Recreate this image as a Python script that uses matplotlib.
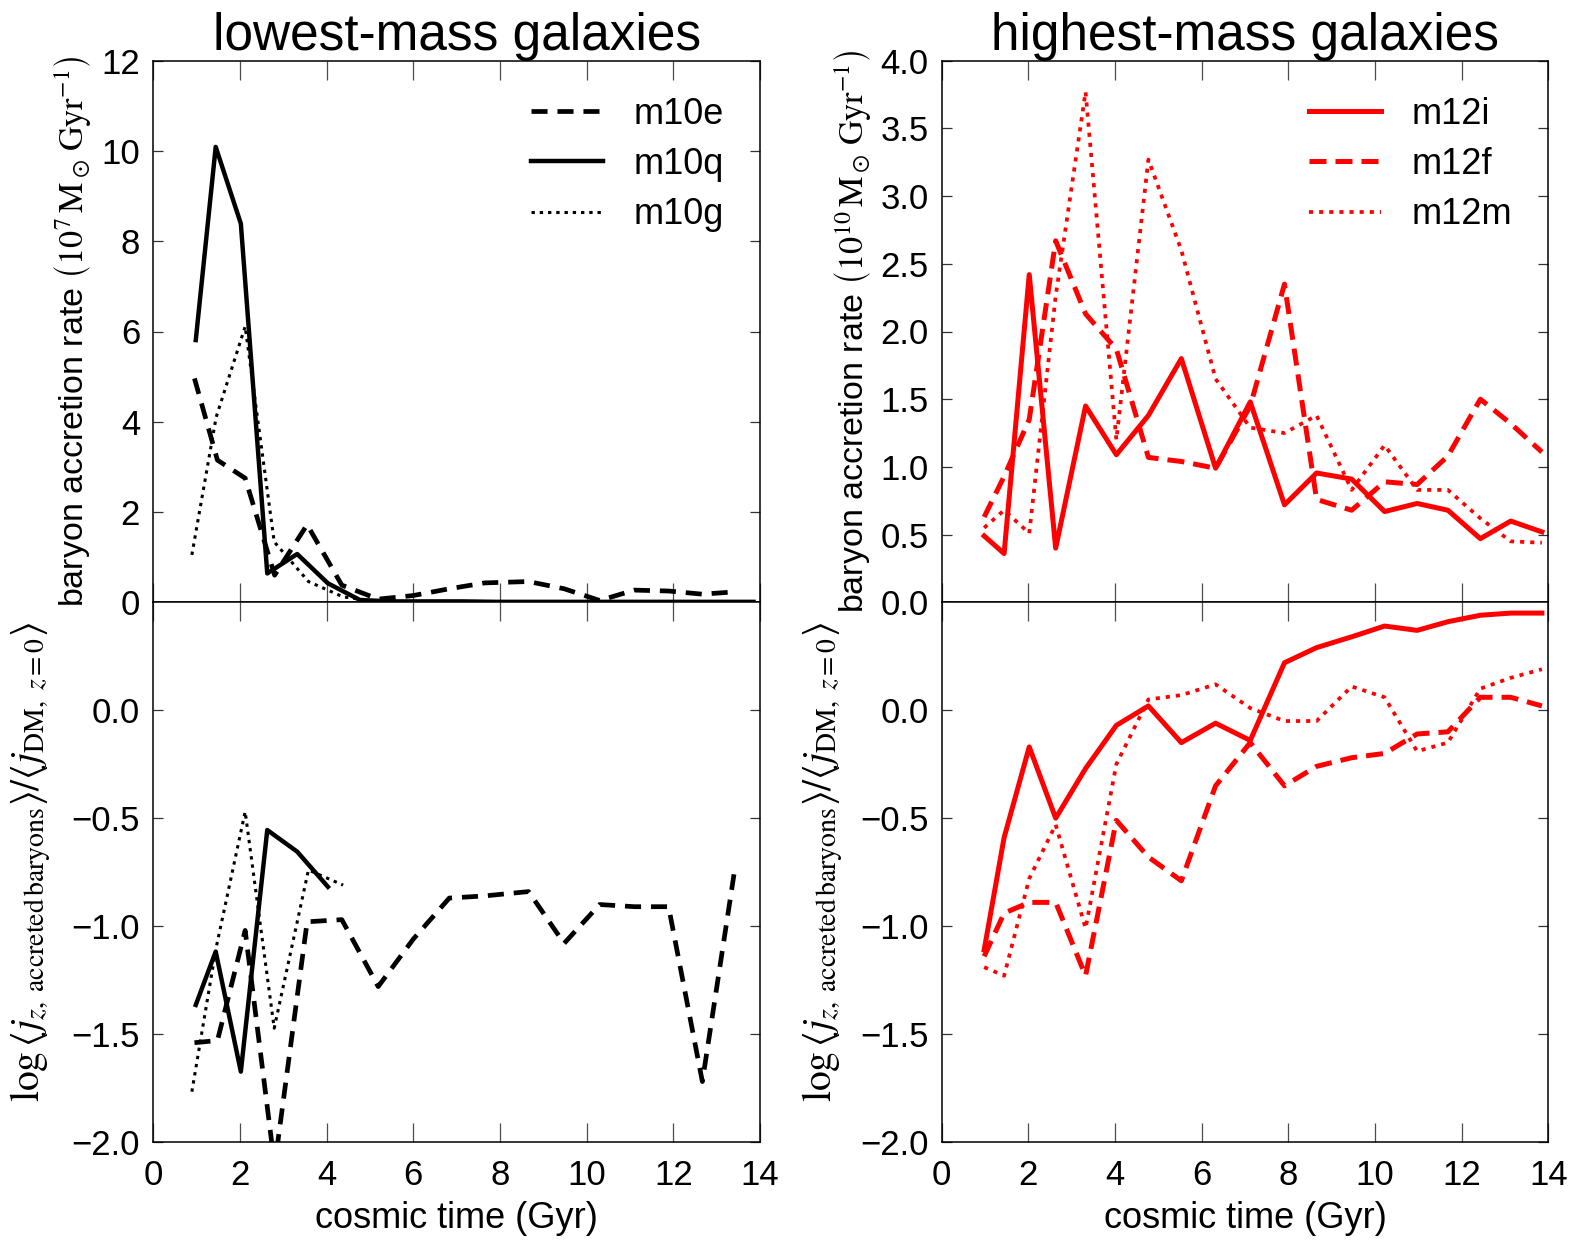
import numpy as np
import matplotlib
matplotlib.use("Agg")
import matplotlib.pyplot as plt

plt.rcParams['font.family'] = ['Liberation Sans', 'DejaVu Sans']
plt.rcParams['mathtext.fontset'] = 'stix'

# ---------------- data ----------------
t_m12 = [0.98, 1.44, 2.02, 2.63, 3.32, 4.03, 4.77, 5.53, 6.32, 7.12, 7.91,
         8.65, 9.46, 10.22, 10.97, 11.68, 12.43, 13.13, 13.85]
t_m10e = [0.95, 1.48, 2.12, 2.80, 3.55, 4.35, 5.19, 6.00, 6.83, 7.65, 8.66,
          9.48, 10.30, 11.10, 11.89, 12.67, 13.40]
t_m10g = [0.89, 1.45, 2.12, 2.79, 3.58, 4.38, 5.19, 6.00, 6.83, 7.65, 8.66,
          9.48, 10.30, 11.10, 11.89, 12.67, 13.40]
t_m10q = t_m12

acc_m10e = [4.96, 3.15, 2.75, 0.60, 1.72, 0.38, 0.07, 0.15, 0.30, 0.43, 0.46,
            0.30, 0.04, 0.27, 0.25, 0.18, 0.23]
acc_m10q = [5.81, 10.09, 8.39, 0.64, 1.07, 0.42, 0.05, 0.02, 0.02, 0.02, 0.01,
            0.01, 0.01, 0.01, 0.01, 0.01, 0.01, 0.01, 0.01]
acc_m10g = [1.05, 4.10, 6.11, 1.34, 0.46, 0.12, 0.02, 0.01, 0.01, 0.01, 0.01,
            0.01, 0.01, 0.01, 0.01, 0.01, 0.01]

j_m10e = [-1.54, -1.53, -1.02, -2.11, -0.98, -0.97, -1.28, -1.06, -0.87, -0.86,
          -0.84, -1.08, -0.90, -0.91, -0.91, -1.72, -0.76]
j_m10q = [-1.365, -1.118, -1.674, -0.555, -0.655, -0.818]
j_m10g = [-1.767, -1.10, -0.47, -1.473, -0.74, -0.81]

acc_m12i = [0.49, 0.36, 2.42, 0.40, 1.45, 1.09, 1.38, 1.80, 0.99, 1.48, 0.72,
            0.955, 0.91, 0.67, 0.73, 0.68, 0.47, 0.60, 0.52]
acc_m12f = [0.63, 0.93, 1.35, 2.67, 2.13, 1.87, 1.07, 1.04, 0.99, 1.45, 2.35,
            0.76, 0.68, 0.89, 0.87, 1.08, 1.50, 1.32, 1.11]
acc_m12m = [0.55, 0.68, 0.51, 2.26, 3.77, 1.20, 3.27, 2.60, 1.65, 1.29, 1.25,
            1.38, 0.83, 1.16, 0.83, 0.83, 0.62, 0.45, 0.44]

j_m12i = [-1.11, -0.59, -0.17, -0.50, -0.27, -0.07, 0.02, -0.15, -0.06, -0.14,
          0.22, 0.29, 0.34, 0.39, 0.37, 0.41, 0.44, 0.45, 0.45]
j_m12f = [-1.14, -0.94, -0.89, -0.89, -1.23, -0.51, -0.68, -0.79, -0.35, -0.15,
          -0.35, -0.26, -0.22, -0.20, -0.11, -0.10, 0.06, 0.06, 0.02]
j_m12m = [-1.19, -1.23, -0.78, -0.53, -1.01, -0.25, 0.05, 0.07, 0.12, 0.01,
          -0.05, -0.05, 0.11, 0.06, -0.19, -0.15, 0.10, 0.15, 0.19]

xticks = [0, 2, 4, 6, 8, 10, 12, 14]
left_top_ticks = [0, 2, 4, 6, 8, 10, 12]
right_top_ticks = [0.0, 0.5, 1.0, 1.5, 2.0, 2.5, 3.0, 3.5, 4.0]
bottom_ticks = [-2.0, -1.5, -1.0, -0.5, 0.0]

# ---------------- styles ----------------
blk_dash = dict(color='k', lw=3.4, dashes=(3.4, 2.1))
blk_solid = dict(color='k', lw=3.2)
blk_dot = dict(color='k', lw=2.2, dashes=(1.1, 1.6))
red_solid = dict(color='r', lw=3.6)
red_dash = dict(color='r', lw=3.6, dashes=(3.4, 1.8))
red_dot = dict(color='r', lw=2.7, dashes=(1.1, 1.6))

W, H = 1585, 1251
fig = plt.figure(figsize=(W / 100, H / 100), dpi=100)

def fx(px):
    return px / W

def fy(py):
    return 1 - py / H

top_y0, top_y1, bot_y1 = 60.7, 602.3, 1142.0
lx0, rx0, aw = 153.3, 941.7, 606.7

ax_lt = fig.add_axes([fx(lx0), fy(top_y1), aw / W, (top_y1 - top_y0) / H])
ax_lb = fig.add_axes([fx(lx0), fy(bot_y1), aw / W, (bot_y1 - top_y1) / H])
ax_rt = fig.add_axes([fx(rx0), fy(top_y1), aw / W, (top_y1 - top_y0) / H])
ax_rb = fig.add_axes([fx(rx0), fy(bot_y1), aw / W, (bot_y1 - top_y1) / H])

ax_lt.plot(t_m10e, acc_m10e, label='m10e', **blk_dash)
ax_lt.plot(t_m10q, acc_m10q, label='m10q', **blk_solid)
ax_lt.plot(t_m10g, acc_m10g, label='m10g', **blk_dot)

ax_lb.plot(t_m10e, j_m10e, **blk_dash)
ax_lb.plot(t_m10q[:len(j_m10q)], j_m10q, **blk_solid)
ax_lb.plot(t_m10g[:len(j_m10g)], j_m10g, **blk_dot)

ax_rt.plot(t_m12, acc_m12i, label='m12i', **red_solid)
ax_rt.plot(t_m12, acc_m12f, label='m12f', **red_dash)
ax_rt.plot(t_m12, acc_m12m, label='m12m', **red_dot)

ax_rb.plot(t_m12, j_m12i, **red_solid)
ax_rb.plot(t_m12, j_m12f, **red_dash)
ax_rb.plot(t_m12, j_m12m, **red_dot)

FS = 25
for ax in (ax_lt, ax_lb, ax_rt, ax_rb):
    ax.set_xlim(0, 14)
    ax.set_xticks(xticks)
    ax.tick_params(axis='x', which='major', direction='in', top=True, bottom=True,
                   length=14, width=0.9, color='0.3', labelsize=FS, pad=12.5)
    ax.tick_params(axis='y', which='major', direction='in', left=True, right=True,
                   length=7, width=0.9, color='0.2', labelsize=FS, pad=9.5)
    for s in ax.spines.values():
        s.set_linewidth(1.1)

for ax in (ax_lt, ax_rt):
    ax.tick_params(axis='x', labelbottom=False)

ax_lt.set_ylim(0, 12)
ax_lt.set_yticks(left_top_ticks)
ax_lt.set_yticklabels([str(v) for v in left_top_ticks])
ax_rt.set_ylim(0, 4.0)
ax_rt.set_yticks(right_top_ticks)
ax_rt.set_yticklabels([f'{v:.1f}' for v in right_top_ticks])

for ax in (ax_lb, ax_rb):
    ax.set_ylim(-2.0, 0.5)
    ax.set_yticks(bottom_ticks)
    ax.set_yticklabels([f'{v:.1f}'.replace('-', '\u2212') for v in bottom_ticks])
    ax.set_xlabel('cosmic time (Gyr)', fontsize=26, labelpad=6)

ax_lt.set_title('lowest-mass galaxies', fontsize=37, pad=2)
ax_rt.set_title('highest-mass galaxies', fontsize=37, pad=2)

ax_lt.set_ylabel(r'baryon accretion rate $\left(10^7\,{\rm M_\odot\,Gyr^{-1}}\right)$',
                 fontsize=24.5)
ax_rt.set_ylabel(r'baryon accretion rate $\left(10^{10}\,{\rm M_\odot\,Gyr^{-1}}\right)$',
                 fontsize=24.5)
jlab = (r'$\log\left\langle j_{z,\ {\rm accreted\,baryons}}\right\rangle/'
        r'\left\langle j_{{\rm DM},\ z=0}\right\rangle$')
ax_lb.set_ylabel(jlab, fontsize=28.5)
ax_rb.set_ylabel(jlab, fontsize=28.5)

ax_lt.yaxis.set_label_coords(-0.097, 0.5)
ax_rt.yaxis.set_label_coords(-0.111, 0.5)
ax_lb.yaxis.set_label_coords(-0.165, 0.52)
ax_rb.yaxis.set_label_coords(-0.160, 0.52)

for ax in (ax_lt, ax_rt):
    ax.legend(loc='upper right', frameon=False, fontsize=26, handlelength=2.0,
              handletextpad=0.85, labelspacing=0.42, borderaxespad=0.6)

fig.savefig('out.png', dpi=100)
